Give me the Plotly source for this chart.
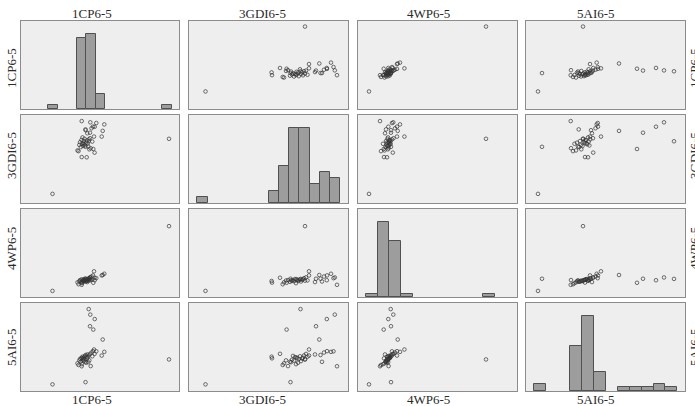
import plotly.graph_objects as go

names = ["1CP6-5", "3GDI6-5", "4WP6-5", "5AI6-5"]

cp = [3.15, 14.8, 6.45, 8.17, 7.23, 6.9, 7.37, 6.93, 6.77,
      6.07, 7.53, 8.33, 6.45, 8.07, 6.07, 6.57,
      5.65, 5.75, 5.83, 5.9, 5.98, 6.05, 6.1, 6.15, 6.2, 6.23, 6.28, 6.32, 6.36, 6.4, 6.46,
      6.53, 6.58, 6.63, 6.68, 6.73, 6.78, 6.83, 6.9, 6.97, 7.05, 7.13, 7.2, 7.3, 7.36]
gdi = [1.65, 11.6, 10.15, 13.03, 9.76, 12.7, 13.78, 14.58, 11.15,
       14.8, 14.45, 14.2, 13.3, 12.0, 8.3, 8.26,
       9.5, 9.37, 10.5, 10.98, 10.1, 11.4, 10.7, 11.85, 10.3, 10.8, 11.2, 10.6, 11.6, 10.4, 13.15,
       10.9, 11.3, 12.6, 10.75, 10.2, 11.5, 9.7, 11.7, 9.9, 13.5, 11.1, 13.8, 12.0, 9.1]
wp = [1.1, 12.8, 3.3, 3.97, 2.57, 3.3, 3.03, 3.53, 3.27,
      2.2, 3.4, 4.2, 2.8, 3.9, 2.6, 2.9,
      2.65, 2.3, 2.85, 3.05, 2.75, 3.19, 2.5, 3.0, 2.9, 3.1, 2.8, 3.25, 2.95, 3.08, 3.3,
      2.88, 3.12, 2.7, 3.22, 3.02, 3.4, 2.98, 3.55, 3.06, 3.7, 3.16, 3.9, 4.64, 3.48]
ai = [1.2, 5.7, 1.6, 9.3, 11.1, 11.7, 13.0, 13.8, 14.8,
      4.47, 7.17, 7.07, 5.27, 6.4, 5.9, 6.2,
      5.0, 4.7, 5.5, 5.8, 5.3, 6.0, 4.85, 6.2, 5.65, 5.92, 5.4, 6.13, 5.72, 6.34, 6.5,
      5.1, 5.86, 6.6, 6.07, 5.2, 6.42, 5.53, 6.7, 4.5, 6.95, 6.27, 7.2, 7.5, 6.72]

data = [cp, gdi, wp, ai]
axis_max = [15.8, 15.9, 15.9, 15.9]
bin_start = [2.7, 0.83, 0.8, 0.8]
bin_size = [0.95, 1.02, 1.17, 1.195]
hist_ymax = [23.5, 14.1, 28.2, 23.5]

W, H = 695, 406
col_px = [(21, 179), (189, 348), (358, 517), (526, 685)]
row_px = [(21, 109), (115, 203), (209, 297), (303, 391)]

fig = go.Figure()
layout = dict(width=W, height=H, margin=dict(l=0, r=0, t=0, b=0),
              paper_bgcolor="white", plot_bgcolor="#eeeeee",
              showlegend=False, bargap=0)

axstyle = dict(showticklabels=False, ticks="", showgrid=False, zeroline=False,
               showline=True, mirror=True, linecolor="#8c8c8c", linewidth=1)

for r in range(4):
    for c in range(4):
        k = r * 4 + c + 1
        xa = "xaxis" if k == 1 else f"xaxis{k}"
        ya = "yaxis" if k == 1 else f"yaxis{k}"
        xref = "x" if k == 1 else f"x{k}"
        yref = "y" if k == 1 else f"y{k}"
        x0, x1 = col_px[c]
        y0, y1 = row_px[r]
        layout[xa] = dict(domain=[x0 / W, x1 / W], anchor=yref,
                          range=[0, axis_max[c]], **axstyle)
        if r == c:
            yr = [0, hist_ymax[r]]
        else:
            yr = [0, axis_max[r]]
        layout[ya] = dict(domain=[1 - y1 / H, 1 - y0 / H], anchor=xref,
                          range=yr, **axstyle)
        if r == c:
            fig.add_trace(go.Histogram(
                x=data[c], xaxis=xref, yaxis=yref, autobinx=False,
                xbins=dict(start=bin_start[c], end=bin_start[c] + 14 * bin_size[c],
                           size=bin_size[c]),
                marker=dict(color="#9d9d9d", line=dict(color="#505050", width=1))))
        else:
            fig.add_trace(go.Scatter(
                x=data[c], y=data[r], xaxis=xref, yaxis=yref, mode="markers",
                marker=dict(symbol="circle-open", size=3.6, color="#333333",
                            line=dict(width=0.7, color="#333333")),
                cliponaxis=True))

font = dict(family="Liberation Serif, Times New Roman, serif", size=13, color="#2a2a2a")
annotations = []
title_x = [92, 262, 428, 596]
label_y = [68, 156, 249, 347]
for i, n in enumerate(names):
    annotations.append(dict(text=n, x=title_x[i] / W, y=1 - 13 / H, xref="paper", yref="paper",
                            showarrow=False, font=font, xanchor="center", yanchor="middle"))
    annotations.append(dict(text=n, x=title_x[i] / W, y=1 - 399 / H, xref="paper", yref="paper",
                            showarrow=False, font=font, xanchor="center", yanchor="middle"))
    annotations.append(dict(text=n, x=11 / W, y=1 - label_y[i] / H, xref="paper", yref="paper",
                            showarrow=False, font=font, textangle=-90,
                            xanchor="center", yanchor="middle"))
    annotations.append(dict(text=n, x=694 / W, y=1 - label_y[i] / H, xref="paper", yref="paper",
                            showarrow=False, font=font, textangle=-90,
                            xanchor="center", yanchor="middle"))
layout["annotations"] = annotations
fig.update_layout(**layout)
fig.write_html("out.html", config={"displayModeBar": False},
               post_script="document.body.style.margin='0px';document.body.style.overflow='hidden';")
